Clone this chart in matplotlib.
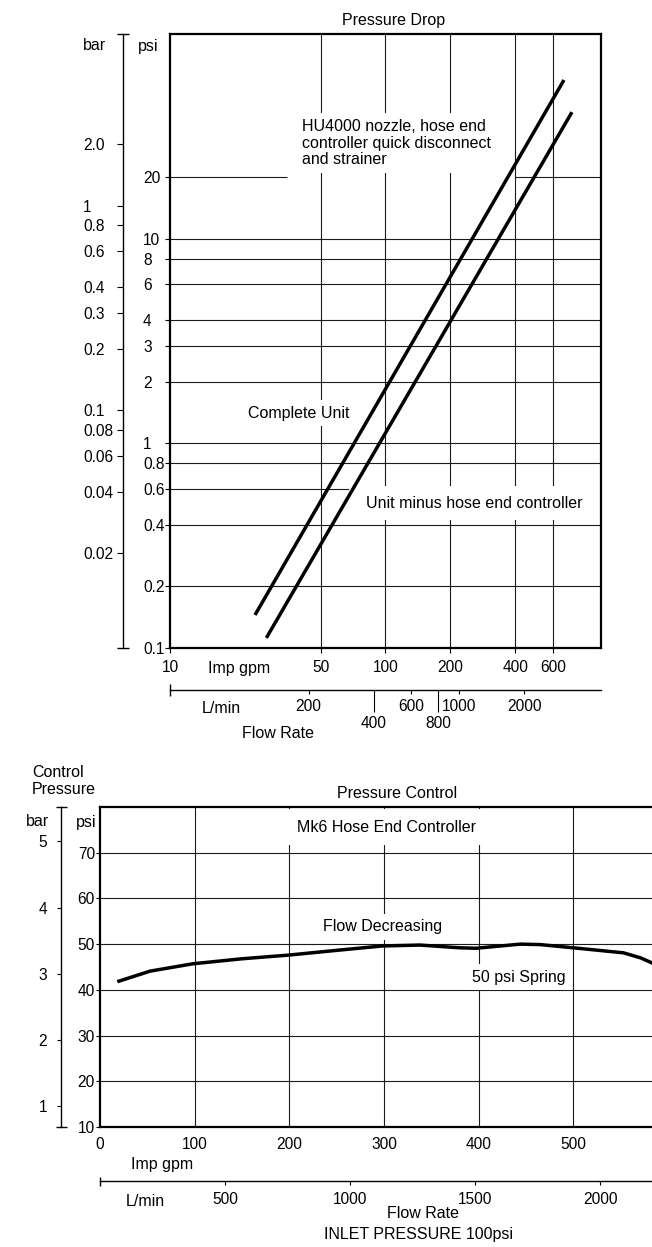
import matplotlib.pyplot as plt
from matplotlib.ticker import FixedLocator, NullFormatter, NullLocator, StrMethodFormatter

plt.rcParams['font.family'] = ['Liberation Sans', 'DejaVu Sans']
plt.rcParams['font.size'] = 11.5
plt.rcParams['xtick.labelsize'] = 11.2
plt.rcParams['ytick.labelsize'] = 11.2

W, H = 652, 1247
PT = 72 / 100  # pixels -> points at dpi 100

PSI_PER_BAR = 14.5038
L_PER_IMP_GAL = 4.546
L_PER_GAL_LOWER = 3.785  # lower chart's L/min scale is drawn with US gallons

# ---- Pressure Drop chart ----
drop_xlim = [10, 1000]          # Imp gpm
drop_ylim = [0.1, 100]          # psi
drop_gpm_ticks = [10, 50, 100, 200, 400, 600]
drop_gpm_grid = [50, 100, 200, 400, 600]
drop_psi_ticks = [0.1, 0.2, 0.4, 0.6, 0.8, 1, 2, 3, 4, 6, 8, 10, 20]
drop_psi_labels = ['0.1', '0.2', '0.4', '0.6', '0.8', '1', '2', '3', '4', '6', '8', '10', '20']
drop_psi_grid = [0.2, 0.4, 0.6, 0.8, 1, 2, 3, 4, 6, 8, 10]
drop_20psi_segments = [(10, 35), (400, 1000)]
drop_bar_ticks = [2.0, 1, 0.8, 0.6, 0.4, 0.3, 0.2, 0.1, 0.08, 0.06, 0.04, 0.02]
drop_bar_labels = ['2.0', '1', '0.8', '0.6', '0.4', '0.3', '0.2', '0.1', '0.08', '0.06', '0.04', '0.02']
drop_lpm_ticks = [200, 600, 1000, 2000]
drop_lpm_long = [400, 800]

complete_gpm = [24.8, 673]
complete_psi = [0.145, 59.6]
minus_gpm = [28.0, 733]
minus_psi = [0.112, 41.5]

# ---- Pressure Control chart ----
ctrl_xlim = [0, 600]
ctrl_ylim = [10, 80]
ctrl_gpm_ticks = [0, 100, 200, 300, 400, 500]
ctrl_gpm_grid = [100, 200, 300, 400, 500]
ctrl_psi_ticks = [10, 20, 30, 40, 50, 60, 70]
ctrl_psi_grid = [20, 30, 40, 50, 60, 70]
ctrl_bar_ticks = [1, 2, 3, 4, 5]
ctrl_lpm_ticks = [500, 1000, 1500, 2000]

spring_gpm = [20, 53, 98, 150, 199, 243, 298, 338, 380, 397, 444, 465, 500, 553, 571, 583, 595]
spring_psi = [41.9, 44.1, 45.7, 46.8, 47.6, 48.5, 49.6, 49.8, 49.2, 49.1, 50.0, 49.9, 49.2, 48.1, 47.0, 45.9, 44.0]

GRID = '#1a1a1a'


def fx(px):
    return px / W


def fy(py):
    return 1 - py / H


def psi2bar(p):
    return p / PSI_PER_BAR


def bar2psi(b):
    return b * PSI_PER_BAR


def white_box(pad, aspect=1.0):
    return dict(boxstyle='square,pad=%g' % pad, fc='white', ec='none', mutation_aspect=aspect)


fig = plt.figure(figsize=(W / 100, H / 100), dpi=100)

# ================= Pressure Drop =================
ax1 = fig.add_axes([fx(170), fy(648), (601 - 170) / W, (648 - 34) / H])
ax1.set_xscale('log')
ax1.set_yscale('log')
ax1.set_xlim(drop_xlim)
ax1.set_ylim(drop_ylim)
ax1.xaxis.set_minor_locator(NullLocator())
ax1.yaxis.set_minor_locator(NullLocator())

ax1.hlines(drop_psi_grid, drop_xlim[0], drop_xlim[1], colors=GRID, lw=0.8, zorder=1)
for x0, x1 in drop_20psi_segments:
    ax1.hlines(20, x0, x1, colors=GRID, lw=0.8, zorder=1)
ax1.vlines(drop_gpm_grid, drop_ylim[0], drop_ylim[1], colors=GRID, lw=0.8, zorder=1)

ax1.plot(complete_gpm, complete_psi, color='black', lw=2.5, solid_capstyle='butt', zorder=3)
ax1.plot(minus_gpm, minus_psi, color='black', lw=2.5, solid_capstyle='butt', zorder=3)

ax1.set_xticks(drop_gpm_ticks, [str(v) for v in drop_gpm_ticks])
ax1.set_yticks(drop_psi_ticks, drop_psi_labels)
ax1.tick_params(axis='x', length=5 * PT, width=0.8, pad=7 * PT)
ax1.tick_params(axis='y', length=5 * PT, width=0.8, pad=22 * PT)
plt.setp(ax1.get_yticklabels(), ha='left')
for s in ax1.spines.values():
    s.set_linewidth(1.6)

ax1.text(41.1, 29.3, 'HU4000 nozzle, hose end\ncontroller quick disconnect\nand strainer',
         ha='left', va='center', linespacing=1.12, bbox=white_box(0.4), zorder=2.2)
ax1.text(23.1, 1.406, 'Complete Unit', ha='left', va='center', bbox=white_box(0.35), zorder=2.2)
ax1.text(81.5, 0.511, 'Unit minus hose end controller', ha='left', va='center',
         bbox=white_box(1.1, 0.55), zorder=2.2)

# bar scale
sb1 = ax1.secondary_yaxis((123 - 170) / 431, functions=(psi2bar, bar2psi))
sb1.set_yticks(drop_bar_ticks, drop_bar_labels)
sb1.yaxis.set_minor_locator(FixedLocator([psi2bar(v) for v in drop_ylim]))
sb1.yaxis.set_minor_formatter(NullFormatter())
sb1.tick_params(which='major', length=6 * PT, width=0.8, pad=34 * PT)
sb1.tick_params(which='minor', direction='inout', length=12 * PT, width=1)
plt.setp(sb1.get_yticklabels(), ha='left')
sb1.spines['left'].set_linewidth(1)

# L/min scale
lpm_top = (lambda g: g * L_PER_IMP_GAL, lambda l: l / L_PER_IMP_GAL)
sl1 = ax1.secondary_xaxis((648 - 690) / 614, functions=lpm_top)
sl1.set_xticks(drop_lpm_ticks, [str(v) for v in drop_lpm_ticks])
sl1.xaxis.set_minor_locator(FixedLocator(drop_lpm_long))
sl1.xaxis.set_minor_formatter(StrMethodFormatter('{x:g}'))
sl1.tick_params(which='major', length=4 * PT, width=0.8, pad=5 * PT)
sl1.tick_params(which='minor', length=22 * PT, width=0.8, pad=4 * PT, labelsize=11.2)
sl1.spines['bottom'].set_linewidth(1)

cap1 = ax1.secondary_xaxis((648 - 690) / 614, functions=lpm_top)
cap1.set_xticks([drop_xlim[0] * L_PER_IMP_GAL], [''])
cap1.xaxis.set_minor_locator(NullLocator())
cap1.tick_params(direction='inout', length=12 * PT, width=1)
cap1.spines['bottom'].set_visible(False)

fig.text(fx(83), fy(46), 'bar', ha='left', va='center')
fig.text(fx(138), fy(46), 'psi', ha='left', va='center')
fig.text(fx(394), fy(20), 'Pressure Drop', ha='center', va='center')
fig.text(fx(239), fy(669), 'Imp gpm', ha='center', va='center')
fig.text(fx(221), fy(708), 'L/min', ha='center', va='center')
fig.text(fx(278), fy(734), 'Flow Rate', ha='center', va='center')

# ================= Pressure Control =================
ax2 = fig.add_axes([fx(100), fy(1127), (668 - 100) / W, (1127 - 807) / H])
ax2.set_xlim(ctrl_xlim)
ax2.set_ylim(ctrl_ylim)

ax2.hlines(ctrl_psi_grid, ctrl_xlim[0], ctrl_xlim[1], colors=GRID, lw=0.8, zorder=1)
ax2.vlines(ctrl_gpm_grid, ctrl_ylim[0], ctrl_ylim[1], colors=GRID, lw=0.8, zorder=1)

ax2.plot(spring_gpm, spring_psi, color='black', lw=2.5, solid_joinstyle='round', zorder=3)

ax2.set_xticks(ctrl_gpm_ticks, [str(v) for v in ctrl_gpm_ticks])
ax2.set_yticks(ctrl_psi_ticks, [str(v) for v in ctrl_psi_ticks])
ax2.tick_params(axis='x', length=0, pad=10 * PT)
ax2.tick_params(axis='y', length=4 * PT, width=0.8, pad=1 * PT)
for s in ax2.spines.values():
    s.set_linewidth(1.6)

ax2.text(208, 75.6, 'Mk6 Hose End Controller', ha='left', va='center', bbox=white_box(0.65), zorder=2.2)
ax2.text(236, 53.8, 'Flow Decreasing', ha='left', va='center', bbox=white_box(0.35), zorder=2.2)
ax2.text(393, 42.8, '50 psi Spring', ha='left', va='center', bbox=white_box(0.35), zorder=2.2)

sb2 = ax2.secondary_yaxis((61 - 100) / 568, functions=(psi2bar, bar2psi))
sb2.set_yticks(ctrl_bar_ticks, [str(v) for v in ctrl_bar_ticks])
sb2.yaxis.set_minor_locator(FixedLocator([psi2bar(v) for v in ctrl_ylim]))
sb2.yaxis.set_minor_formatter(NullFormatter())
sb2.tick_params(which='major', length=4 * PT, width=0.8, pad=10 * PT)
sb2.tick_params(which='minor', direction='inout', length=11 * PT, width=1)
sb2.spines['left'].set_linewidth(1)

sl2 = ax2.secondary_xaxis((1127 - 1181) / 320,
                          functions=(lambda g: g * L_PER_GAL_LOWER, lambda l: l / L_PER_GAL_LOWER))
sl2.set_xticks(ctrl_lpm_ticks, [str(v) for v in ctrl_lpm_ticks])
sl2.xaxis.set_minor_locator(FixedLocator([0]))
sl2.xaxis.set_minor_formatter(NullFormatter())
sl2.tick_params(which='major', length=4 * PT, width=0.8, pad=7 * PT)
sl2.tick_params(which='minor', direction='inout', length=9 * PT, width=1)
sl2.spines['bottom'].set_linewidth(1)

fig.text(fx(32), fy(781), 'Control\nPressure', ha='left', va='center', linespacing=1.1)
fig.text(fx(26), fy(822), 'bar', ha='left', va='center')
fig.text(fx(76), fy(822), 'psi', ha='left', va='center')
fig.text(fx(397), fy(793), 'Pressure Control', ha='center', va='center')
fig.text(fx(162), fy(1164), 'Imp gpm', ha='center', va='center')
fig.text(fx(145), fy(1202), 'L/min', ha='center', va='center')
fig.text(fx(423), fy(1214), 'Flow Rate', ha='center', va='center')
fig.text(fx(419), fy(1235), 'INLET PRESSURE 100psi', ha='center', va='center')

fig.savefig('out.png', dpi=100)
